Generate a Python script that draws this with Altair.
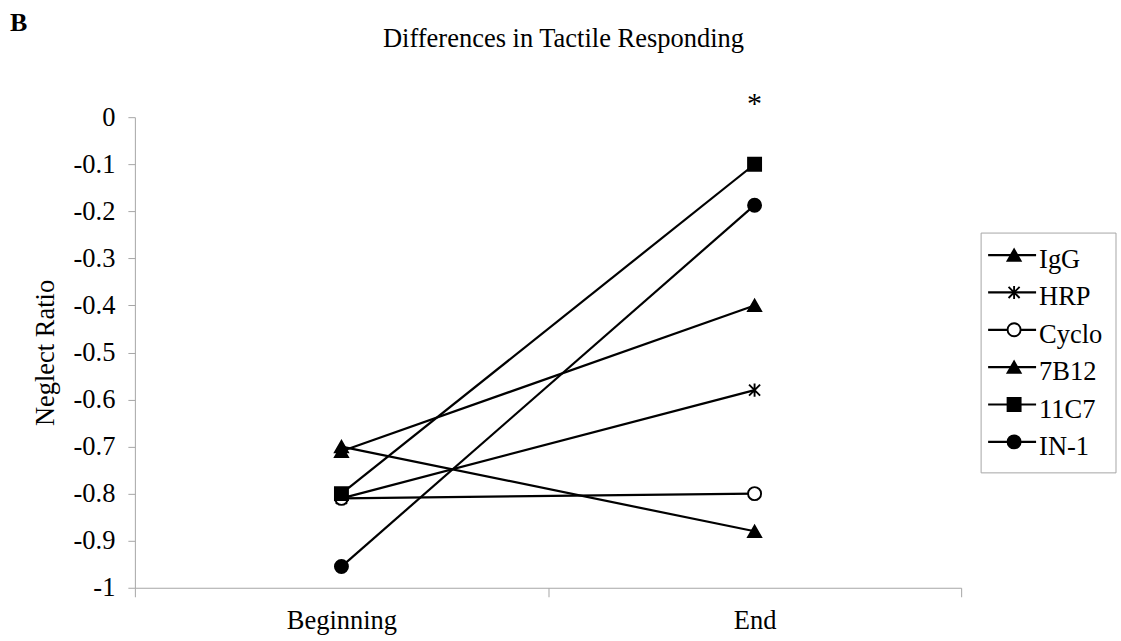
import altair as alt
import pandas as pd

FONT = "Liberation Serif"
AXIS_GREY = "#a6a6a6"
TEXT_SIZE = 26.5

# Treatment groups, in legend order, with neglect ratios at the two time points
series = ["IgG", "HRP", "Cyclo", "7B12", "11C7", "IN-1"]
timepoints = ["Beginning", "End"]
beginning = [-0.70, -0.81, -0.81, -0.71, -0.80, -0.955]
end = [-0.88, -0.58, -0.80, -0.40, -0.10, -0.187]

# Marker styles per group (asterisk drawn as a custom path)
ASTERISK = "M0,-1L0,1M-0.85,-0.85L0.85,0.85M-0.85,0.85L0.85,-0.85"
shapes = ["triangle-up", ASTERISK, "circle", "triangle-up", "square", "circle"]
fills = ["black", "black", "white", "black", "black", "black"]

# Significance marker above the end time point
sig_time = ["End"]
sig_value = [0.0]
sig_text = ["*"]

y_ticks = [0, -0.1, -0.2, -0.3, -0.4, -0.5, -0.6, -0.7, -0.8, -0.9, -1]
title_text = ["Differences in Tactile Responding"]
panel_tag = ["B"]

rows = []
for name, b, e in zip(series, beginning, end):
    for t, v in zip(timepoints, (b, e)):
        rows.append({"series": name, "time": t, "ratio": v})
df = pd.DataFrame(rows)
sig_df = pd.DataFrame({"time": sig_time, "ratio": sig_value, "label": sig_text})
legend_df = pd.DataFrame({"series": series})
title_df = pd.DataFrame({"t": title_text})
tag_df = pd.DataFrame({"t": panel_tag})
frame_df = pd.DataFrame({"frame": ["legend"]})

x_enc = alt.X(
    "time:N",
    sort=timepoints,
    title=None,
    scale=alt.Scale(type="band", domain=timepoints, paddingInner=0, paddingOuter=0),
    axis=alt.Axis(tickBand="extent", labelAngle=0, tickSize=9, labelPadding=11,
                  labelFontSize=TEXT_SIZE),
)
y_enc = alt.Y(
    "ratio:Q",
    scale=alt.Scale(domain=[-1, 0], nice=False, zero=False),
    axis=alt.Axis(
        values=y_ticks,
        labelExpr="datum.value < 0 ? '-' + format(-datum.value, '~g') : '0'",
        title="Neglect Ratio",
        grid=False,
        tickSize=7,
        labelPadding=13,
        titlePadding=14,
        labelFontSize=TEXT_SIZE,
        titleFontSize=TEXT_SIZE,
    ),
)
shape_enc = alt.Shape("series:N", scale=alt.Scale(domain=series, range=shapes), legend=None)
fill_enc = alt.Fill("series:N", scale=alt.Scale(domain=series, range=fills), legend=None)

lines = alt.Chart(df).mark_line(color="black", strokeWidth=2.2).encode(
    x=x_enc, y=y_enc, detail="series:N"
)
points = alt.Chart(df).mark_point(
    filled=True, size=170, stroke="black", strokeWidth=1.9, opacity=1, fillOpacity=1
).encode(x=x_enc, y=y_enc, shape=shape_enc, fill=fill_enc)
sig = alt.Chart(sig_df).mark_text(
    font=FONT, fontSize=30, color="black", baseline="alphabetic", dy=-4
).encode(x=x_enc, y=y_enc, text="label:N")
title = alt.Chart(title_df).mark_text(
    font=FONT, fontSize=TEXT_SIZE, color="black", align="center", baseline="top"
).encode(x=alt.value(429), y=alt.value(-91), text="t:N")
tag = alt.Chart(tag_df).mark_text(
    font=FONT, fontSize=26, fontWeight="bold", color="black", align="left", baseline="top"
).encode(x=alt.value(-125), y=alt.value(-107), text="t:N")

main = alt.layer(lines, points, sig, title, tag)

# Legend drawn beside the plot: sample line, marker and label per group
leg_y = alt.Y("series:N", sort=series,
              scale=alt.Scale(type="point", domain=series, range=[138, 325], padding=0),
              axis=None)
frame = alt.Chart(frame_df).mark_rect(
    fillOpacity=0, stroke=AXIS_GREY, strokeWidth=1
).encode(x=alt.value(847), x2=alt.value(982), y=alt.value(116), y2=alt.value(356))
leg_lines = alt.Chart(legend_df).mark_rule(color="black", strokeWidth=2.2).encode(
    x=alt.value(854), x2=alt.value(902), y=leg_y
)
leg_points = alt.Chart(legend_df).mark_point(
    filled=True, size=170, stroke="black", strokeWidth=1.9, opacity=1, fillOpacity=1
).encode(x=alt.value(880), y=leg_y, shape=shape_enc, fill=fill_enc)
leg_text = alt.Chart(legend_df).mark_text(
    font=FONT, fontSize=TEXT_SIZE, color="black", align="left", baseline="alphabetic", dy=13
).encode(x=alt.value(905), y=leg_y, text="series:N")
legend = alt.layer(frame, leg_lines, leg_points, leg_text)

chart = (
    alt.layer(main, legend)
    .resolve_scale(y="independent")
    .properties(width=827, height=471,
                padding={"left": 10, "top": 10, "right": 4, "bottom": 5})
    .configure_view(stroke="transparent")
    .configure_axis(
        labelFont=FONT,
        titleFont=FONT,
        labelColor="black",
        titleColor="black",
        titleFontWeight="normal",
        domainColor=AXIS_GREY,
        tickColor=AXIS_GREY,
        domainWidth=1,
        tickWidth=1,
    )
)

chart.save("out.html", embed_options={"renderer": "svg", "actions": False})
